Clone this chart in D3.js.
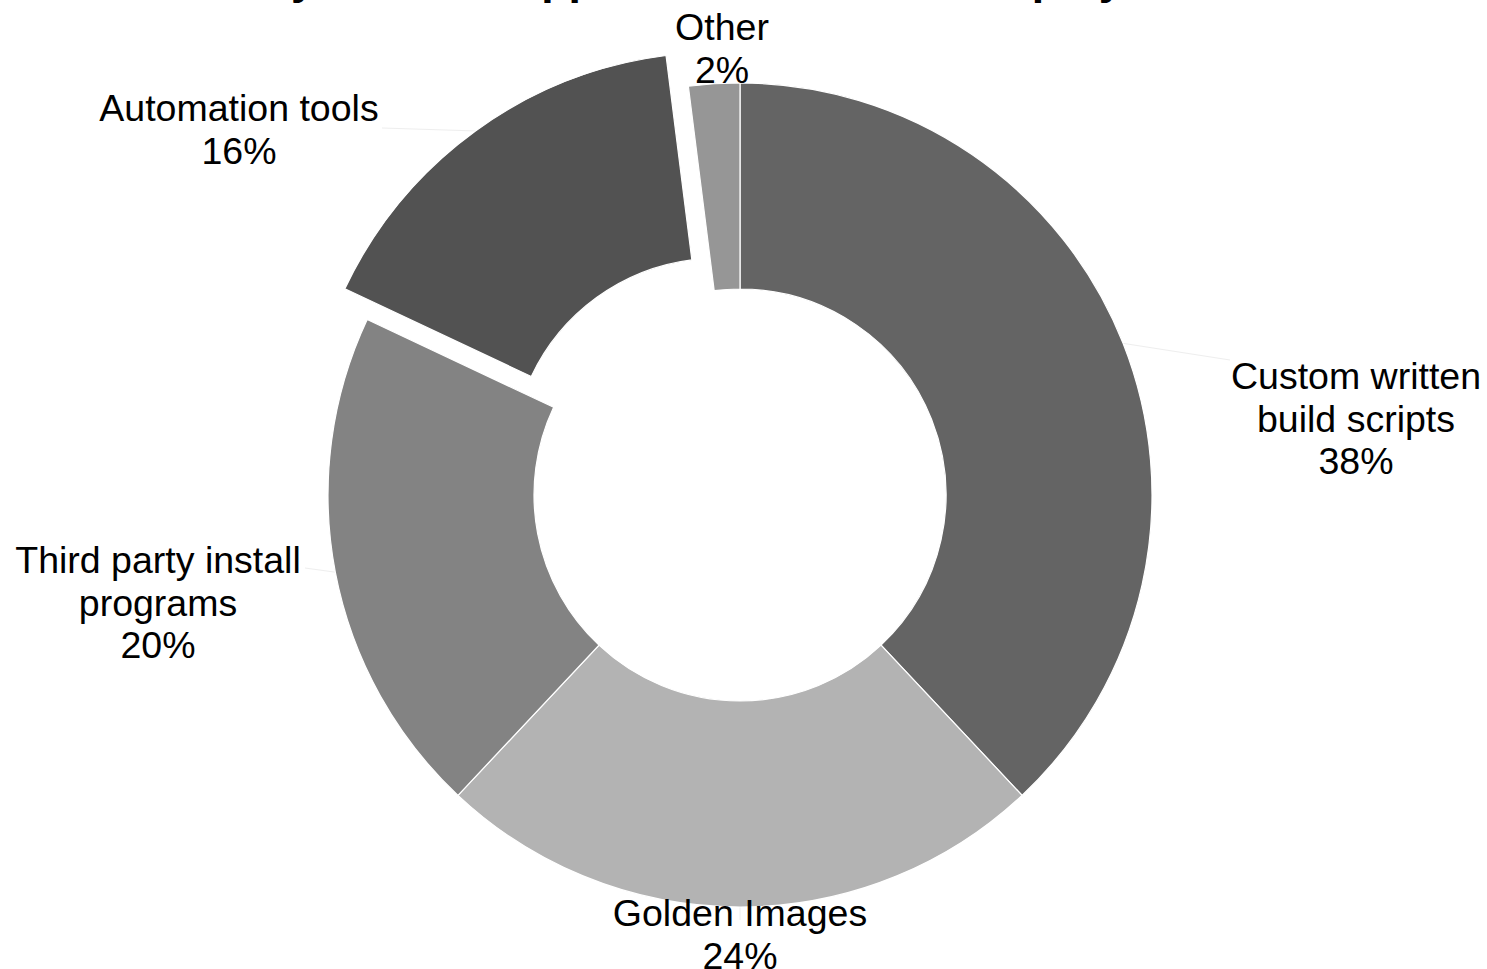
<!DOCTYPE html>
<html>
<head>
<meta charset="utf-8">
<script src="https://cdn.jsdelivr.net/npm/d3@7"></script>
<style>
  html, body { margin: 0; padding: 0; background: #ffffff; }
  svg { display: block; }
  text { font-family: "Liberation Sans", Arial, Helvetica, sans-serif; }
</style>
</head>
<body>
<svg id="chart" width="1487" height="969"></svg>
<script>
// ---- data ----
const titleText = "What is your main approach to software deployment?";
const categories = ["Custom written build scripts", "Golden Images", "Third party install programs", "Automation tools", "Other"];
const values = [38, 24, 20, 16, 2];
const labelLines = [["Custom written", "build scripts"], ["Golden Images"], ["Third party install", "programs"], ["Automation tools"], ["Other"]];
const explodedCategory = "Automation tools";

// ---- layout / style ----
const W = 1487, H = 969;
const cx = 740, cy = 495, outerR = 412, innerR = 206, explodeDist = 38;
const sliceColors = ["#646464", "#b3b3b3", "#838383", "#525252", "#969696"];
// label anchor (text centre x, first baseline y) and leader end points
const labelLayout = [
  { x: 1356, y: 389, lx: 1230, ly: 360 },
  { x: 740, y: 926, lx: 740, ly: 920 },
  { x: 158, y: 573, lx: 305, ly: 568 },
  { x: 239, y: 121, lx: 382, ly: 128 },
  { x: 722, y: 40, lx: 716, ly: 82 }
];
const lineH = 42.5, fontSize = 37.5;

const svg = d3.select("#chart");

const color = d3.scaleOrdinal().domain(categories).range(sliceColors);
const pie = d3.pie().sort(null).value(d => d.value);
const arcs = pie(categories.map((c, i) => ({ cat: c, value: values[i], i })));
const arc = d3.arc().innerRadius(innerR).outerRadius(outerR);

function offsetFor(d) {
  if (d.data.cat !== explodedCategory) return [0, 0];
  const mid = (d.startAngle + d.endAngle) / 2;
  return [Math.sin(mid) * explodeDist, -Math.cos(mid) * explodeDist];
}

const g = svg.append("g").attr("transform", `translate(${cx},${cy})`);

// leader lines (very faint)
g.selectAll("line.leader").data(arcs).enter().append("line")
  .attr("class", "leader")
  .attr("x1", d => { const mid = (d.startAngle + d.endAngle) / 2; return Math.sin(mid) * outerR + offsetFor(d)[0]; })
  .attr("y1", d => { const mid = (d.startAngle + d.endAngle) / 2; return -Math.cos(mid) * outerR + offsetFor(d)[1]; })
  .attr("x2", d => labelLayout[d.index].lx - cx)
  .attr("y2", d => labelLayout[d.index].ly - cy)
  .attr("stroke", "#eeeeee")
  .attr("stroke-width", 1);

// slices
g.selectAll("path.slice").data(arcs).enter().append("path")
  .attr("class", "slice")
  .attr("transform", d => `translate(${offsetFor(d)[0]},${offsetFor(d)[1]})`)
  .attr("d", arc)
  .attr("fill", d => color(d.data.cat))
  .attr("stroke", "#ffffff")
  .attr("stroke-width", 1.2);

// labels
const labels = svg.selectAll("text.lbl").data(arcs).enter().append("text")
  .attr("class", "lbl")
  .attr("text-anchor", "middle")
  .attr("font-size", fontSize)
  .attr("fill", "#000000");
labels.each(function(d) {
  const t = d3.select(this);
  const L = labelLayout[d.index];
  const lines = labelLines[d.index].concat([d3.format("d")(d.data.value) + "%"]);
  lines.forEach((ln, k) => {
    t.append("tspan").attr("x", L.x).attr("y", L.y + k * lineH).text(ln);
  });
});

// title (mostly cut off at the top in the reference)
svg.append("text")
  .attr("x", 120)
  .attr("y", -6)
  .attr("text-anchor", "start")
  .attr("font-size", 44.6)
  .attr("font-weight", "bold")
  .attr("fill", "#000000")
  .text(titleText);
</script>
</body>
</html>
